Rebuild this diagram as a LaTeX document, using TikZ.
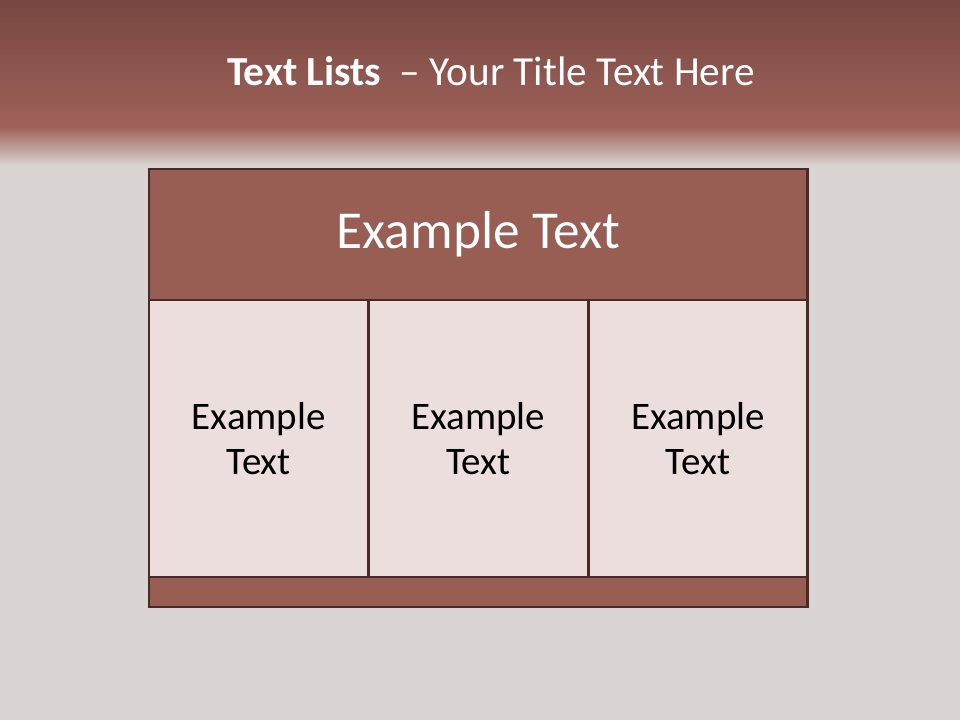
\documentclass[tikz,border=0pt]{standalone}
\usepackage{fontspec}
\setmainfont{Carlito}
\usepackage{xcolor}
\usetikzlibrary{positioning}

\definecolor{bgcol}{HTML}{DAD5D2}
\definecolor{bandtop}{HTML}{774741}
\definecolor{bandmid}{HTML}{9E6259}
\definecolor{headfill}{HTML}{985E54}
\definecolor{cellfill}{HTML}{EBDEDC}
\definecolor{edgecol}{HTML}{4B2A25}

\begin{document}
\begin{tikzpicture}[
    x=0.02cm, y=-0.02cm,
    panel/.style={draw=edgecol, line width=1.6pt, inner sep=0pt, outer sep=0pt, anchor=north west},
    headbox/.style={panel, fill=headfill, minimum width=13.18cm, minimum height=2.62cm},
    cellbox/.style={panel, fill=cellfill, minimum width=4.393cm, minimum height=5.54cm,
      align=center, font=\fontsize{22.2}{25.6}\selectfont},
    footbox/.style={panel, fill=headfill, minimum width=13.18cm, minimum height=0.6cm}
  ]
    % background and title band
    \fill[bgcol] (0,0) rectangle (960,720);
    \shade[top color=bandtop, bottom color=bandmid] (0,0) rectangle (960,127);
    \shade[top color=bandmid, bottom color=bgcol] (0,127) rectangle (960,166);
    \useasboundingbox (0,0) rectangle (960,720);

    \node[anchor=base, text=white, font=\fontsize{23.5}{28}\selectfont] (title) at (491,85)
      {\textbf{Text Lists}\ \ -- Your Title Text Here};

    % table
    \node[headbox] (head) at (149,169) {};
    \node[text=black, opacity=0.35, font=\fontsize{30.4}{36}\selectfont] (headshadow)
      at ([shift={(0.06,-0.06)}]head.center) {Example Text};
    \node[text=white, font=\fontsize{30.4}{36}\selectfont] (headtext) at (head.center) {Example Text};
    \node[cellbox] (left) at (head.south west) {Example\\Text};
    \node[cellbox] (middle) at (left.north east) {Example\\Text};
    \node[cellbox] (right) at (middle.north east) {Example\\Text};
    \node[footbox] (foot) at (left.south west) {};
  \end{tikzpicture}
\end{document}
